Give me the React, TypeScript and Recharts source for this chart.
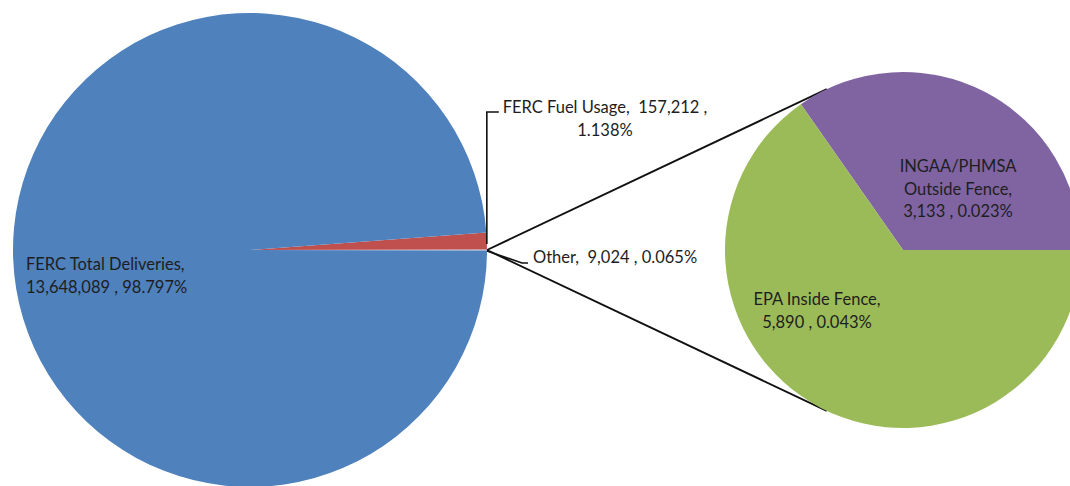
import { Customized, Pie, PieChart, Cell } from "recharts";

// main pie values (Other = sum of the breakout pie)
const mainNames = ["Other", "FERC Fuel Usage", "FERC Total Deliveries"];
const mainValues = [9024, 157212, 13648089];
const mainColors = ["#c9d6ea", "#c0504d", "#4f81bd"];

// breakout of "Other"
const subNames = ["INGAA/PHMSA Outside Fence", "EPA Inside Fence"];
const subValues = [3133, 5890];
const subColors = ["#8064a2", "#9bbb59"];

const W = 1070;
const H = 486;
const MAIN = { cx: 250, cy: 250, r: 237 };
const SUB = { cx: 903, cy: 250, r: 178 };
const FONT = "Lato, 'Open Sans', sans-serif";
const TEXT = "#1e1e1e";

const grandTotal = mainValues.reduce((a, b) => a + b, 0);

const mainData = mainNames.map((name, i) => ({ name, value: mainValues[i] }));
const subData = subNames.map((name, i) => ({ name, value: subValues[i] }));

const fmt = (v: number) => v.toLocaleString("en-US");
const pct = (v: number) => ((v / grandTotal) * 100).toFixed(3) + "%";

// which lines a label gets
const labelLines: Record<string, (v: number) => string[]> = {
  "FERC Total Deliveries": (v) => ["FERC Total Deliveries,", `${fmt(v)} , ${pct(v)}`],
  "FERC Fuel Usage": (v) => [`FERC Fuel Usage,  ${fmt(v)} ,`, pct(v)],
  Other: (v) => [`Other,  ${fmt(v)} , ${pct(v)}`],
  "INGAA/PHMSA Outside Fence": (v) => ["INGAA/PHMSA", "Outside Fence,", `${fmt(v)} , ${pct(v)}`],
  "EPA Inside Fence": (v) => ["EPA Inside Fence,", `${fmt(v)} , ${pct(v)}`],
};

const RAD = Math.PI / 180;
const LINE_H = 22.5;

function renderLabel(props: any) {
  const { cx, cy, outerRadius: r, midAngle, name, value } = props;
  const lines = labelLines[name](value);
  let x = cx;
  let y = cy;
  let anchor: "start" | "middle" = "middle";
  let leader: string | null = null;

  if (name === "FERC Total Deliveries") {
    x = cx - r + 13;
    y = cy + 20;
    anchor = "start";
  } else if (name === "FERC Fuel Usage") {
    const sx = cx + r * Math.cos(midAngle * RAD);
    const sy = cy - r * Math.sin(midAngle * RAD) + 3;
    leader = `${sx},${sy} ${sx},${cy - 138} ${sx + 12},${cy - 138}`;
    x = cx + r + 118;
    y = cy - 137;
  } else if (name === "Other") {
    const sx = cx + r;
    leader = `${sx},${cy + 1} ${sx + 35},${cy + 13} ${sx + 41},${cy + 13}`;
    x = cx + r + 46;
    y = cy + 13;
    anchor = "start";
  } else if (name === "INGAA/PHMSA Outside Fence") {
    x = cx + 55;
    y = cy - 78;
  } else {
    x = cx - 86;
    y = cy + 55;
  }

  return (
    <g>
      {leader && <polyline points={leader} fill="none" stroke="#111" strokeWidth={1.6} />}
      <text
        x={x}
        y={y}
        textAnchor={anchor}
        fill={TEXT}
        fontSize={16.5}
        fontFamily={FONT}
        style={{ whiteSpace: "pre" }}
      >
        {lines.map((l, i) => (
          <tspan key={i} x={x} dy={i === 0 ? 0 : LINE_H}>
            {l}
          </tspan>
        ))}
      </text>
    </g>
  );
}

// tangent lines from the tip of the "Other" slice to the breakout pie
function Connectors() {
  const px = MAIN.cx + MAIN.r;
  const py = MAIN.cy;
  const d = Math.hypot(SUB.cx - px, SUB.cy - py);
  const a = Math.acos(SUB.r / d);
  const base = Math.atan2(py - SUB.cy, px - SUB.cx);
  return (
    <g>
      {[base + a, base - a].map((t, i) => (
        <line
          key={i}
          x1={px}
          y1={py}
          x2={SUB.cx + SUB.r * Math.cos(t)}
          y2={SUB.cy + SUB.r * Math.sin(t)}
          stroke="#111"
          strokeWidth={1.9}
        />
      ))}
    </g>
  );
}

export default function App() {
  const otherSpan = (mainValues[0] / grandTotal) * 360;
  const start = -otherSpan / 2;
  return (
    <div style={{ width: W, height: H, background: "#fff" }}>
      <style>{"body{margin:0}"}</style>
      <PieChart width={W} height={H} margin={{ top: 0, right: 0, bottom: 0, left: 0 }}>
        <Customized component={Connectors} />
        <Pie
          data={mainData}
          dataKey="value"
          nameKey="name"
          cx={MAIN.cx}
          cy={MAIN.cy}
          outerRadius={MAIN.r}
          startAngle={start}
          endAngle={start + 360}
          stroke="none"
          label={renderLabel}
          labelLine={false}
          isAnimationActive={false}
        >
          {mainData.map((d, i) => (
            <Cell key={d.name} fill={mainColors[i]} />
          ))}
        </Pie>
        <Pie
          data={subData}
          dataKey="value"
          nameKey="name"
          cx={SUB.cx}
          cy={SUB.cy}
          outerRadius={SUB.r}
          startAngle={0}
          endAngle={360}
          stroke="none"
          label={renderLabel}
          labelLine={false}
          isAnimationActive={false}
        >
          {subData.map((d, i) => (
            <Cell key={d.name} fill={subColors[i]} />
          ))}
        </Pie>
      </PieChart>
    </div>
  );
}
